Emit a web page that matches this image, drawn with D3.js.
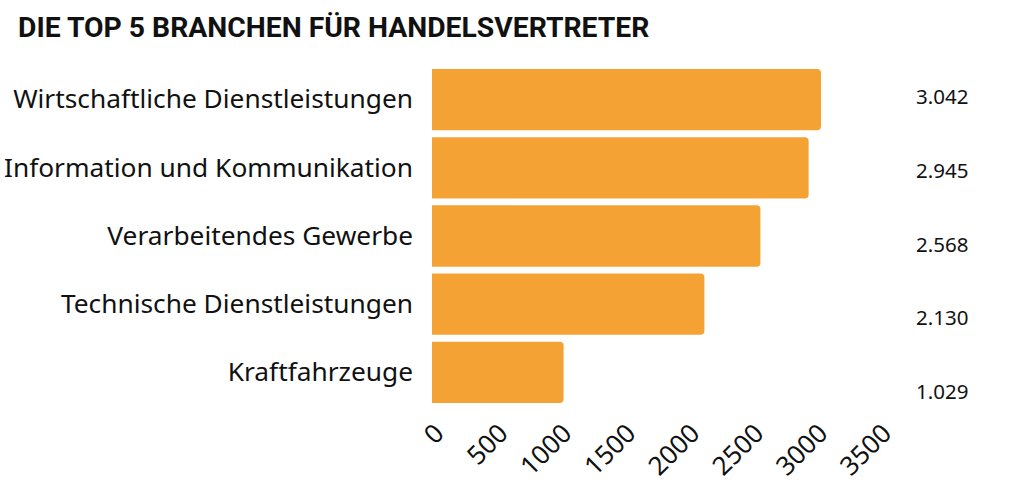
<!DOCTYPE html>
<html>
<head>
    <meta charset="utf-8">
    <title>Die Top 5 Branchen</title>
    <script src="https://d3js.org/d3.v7.min.js"></script>
</head>
<body style="margin:0;background:#fff">
    <div id="chart"></div>

    <script>
        // data
        const branchen = ["Wirtschaftliche Dienstleistungen", "Information und Kommunikation",
            "Verarbeitendes Gewerbe", "Technische Dienstleistungen", "Kraftfahrzeuge"];
        const werte = [3042, 2945, 2568, 2130, 1029];
        const wertLabels = ["3.042", "2.945", "2.568", "2.130", "1.029"];
        const ticks = [0, 500, 1000, 1500, 2000, 2500, 3000, 3500];

        const width = 1014, height = 489;

        const svg = d3.select("#chart").append("svg")
            .attr("width", width)
            .attr("height", height)
            .style("font-family", "'Noto Sans', sans-serif");

        svg.append("text")
            .attr("x", 18)
            .attr("y", 37)
            .style("font-family", "Roboto, sans-serif")
            .style("font-weight", "bold")
            .style("font-size", "28.3px")
            .attr("fill", "#111")
            .text("DIE TOP 5 BRANCHEN FÜR HANDELSVERTRETER");

        const x = d3.scaleLinear().domain([0, 3500]).range([432, 879.6]);
        const y = d3.scaleBand().domain(branchen).range([69, 403]).paddingInner(0.1).paddingOuter(0);
        // value labels sit on their own, slightly wider spread
        const yLab = d3.scalePoint().domain(branchen).range([97, 392]);

        // bars, rounded on the right side only
        svg.selectAll("path.bar").data(werte).join("path")
            .attr("class", "bar")
            .attr("fill", "#f4a233")
            .attr("d", (d, i) => {
                const x0 = x(0), x1 = x(d), y0 = y(branchen[i]), h = y.bandwidth(), r = 4;
                return `M${x0},${y0}H${x1 - r}Q${x1},${y0} ${x1},${y0 + r}V${y0 + h - r}Q${x1},${y0 + h} ${x1 - r},${y0 + h}H${x0}Z`;
            });

        svg.selectAll("text.cat").data(branchen).join("text")
            .attr("class", "cat")
            .attr("x", 413)
            .attr("y", d => y(d) + y.bandwidth() / 2)
            .attr("dy", "0.33em")
            .attr("text-anchor", "end")
            .style("font-size", "26.3px")
            .attr("fill", "#111")
            .text(d => d);

        svg.selectAll("text.val").data(wertLabels).join("text")
            .attr("class", "val")
            .attr("x", 916)
            .attr("y", (d, i) => yLab(branchen[i]))
            .attr("dy", "0.35em")
            .style("font-size", "20.5px")
            .attr("fill", "#111")
            .text(d => d);

        const axis = svg.append("g")
            .attr("transform", "translate(0,418)")
            .call(d3.axisBottom(x).tickValues(ticks).tickSize(0).tickFormat(d3.format("d")));
        axis.select(".domain").remove();
        axis.selectAll("text")
            .attr("fill", "#111")
            .style("font-family", "'Noto Sans', sans-serif")
            .style("font-size", "26px")
            .attr("text-anchor", "end")
            .attr("dy", "0.7em")
            .attr("transform", "translate(-2,2) rotate(-45)");
    </script>
</body>
</html>
